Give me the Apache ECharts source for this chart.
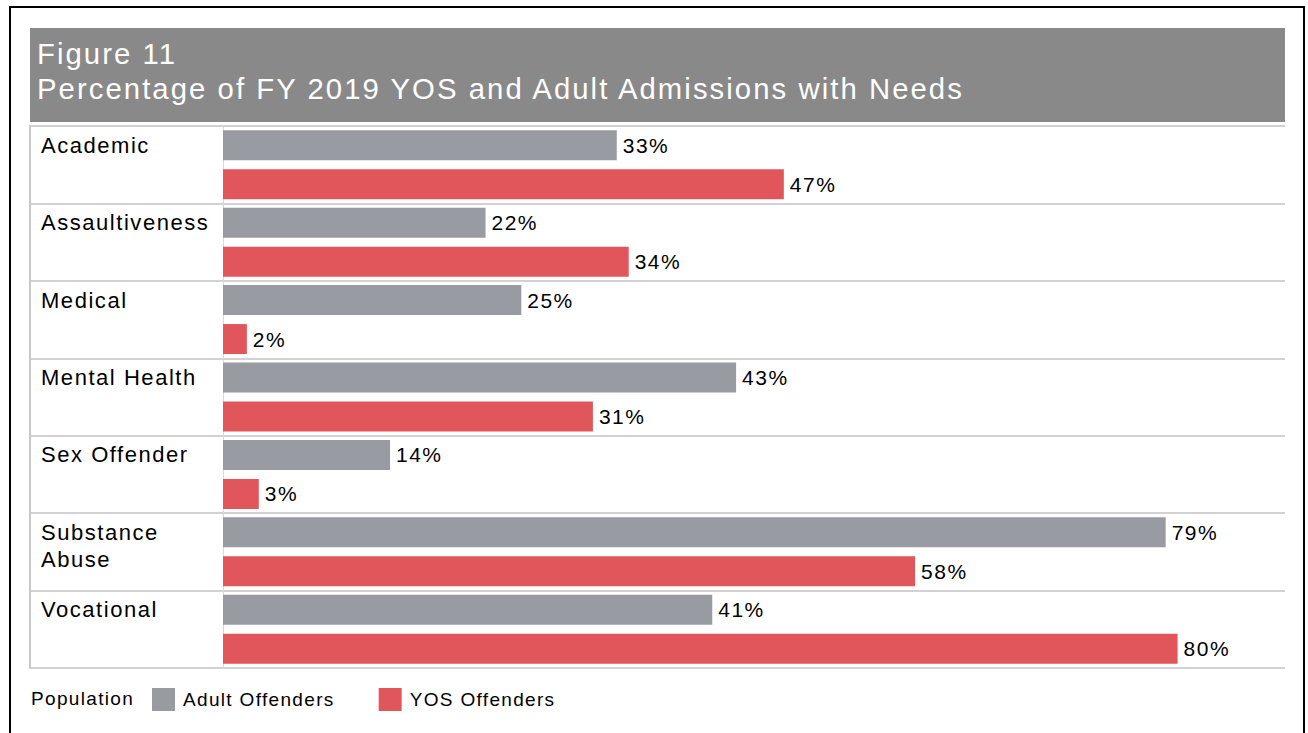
<!DOCTYPE html>
<html lang="en">
    <head>
        <meta charset="UTF-8">
        <script src="https://cdn.jsdelivr.net/npm/echarts@6/dist/echarts.min.js"></script>
        <title>Figure 11</title>
        <style>
            html, body { margin: 0; padding: 0; background: #fff; }
            /* the original uses a loosely tracked Helvetica */
            #chart-container text { letter-spacing: 0.07em; }
        </style>
    </head>
    <body>
        <div id="chart-container" style="width: 1308px; height: 733px;"></div>

        <script>
            // needs categories, top to bottom
            const categories = ['Academic', 'Assaultiveness', 'Medical', 'Mental Health', 'Sex Offender', 'Substance Abuse', 'Vocational'];
            // percentage of admissions with each need
            const adultValues = [33, 22, 25, 43, 14, 79, 41];
            const yosValues = [47, 34, 2, 31, 3, 58, 80];
            const seriesNames = ['Adult Offenders', 'YOS Offenders'];

            const font = '"Liberation Sans", Arial, sans-serif';
            const chart = echarts.init(document.getElementById('chart-container'), null, { renderer: 'svg' });

            // long names go on two lines, the spacer pushes the text up to the top of the row
            const rowLabel = v => {
                const lines = v.length > 14 ? v.split(' ') : [v, ' '];
                return lines.map(l => '{a|' + l + '}').join('\n') + '\n{b| }';
            };

            const options = {
                animation: false,
                backgroundColor: '#fff',
                graphic: [
                    { type: 'rect', z: 0, shape: { x: 10, y: 7, width: 1294, height: 800 },
                      style: { fill: 'none', stroke: '#000', lineWidth: 2 } },
                    { type: 'rect', z: 0, shape: { x: 30, y: 28, width: 1255, height: 94 },
                      style: { fill: '#898989' } }
                ],
                title: [
                    {
                        text: 'Figure 11\nPercentage of FY 2019 YOS and Adult Admissions with Needs',
                        left: 37, top: 36, padding: 0,
                        textStyle: { color: '#fff', fontFamily: font, fontSize: 29.3, fontWeight: 'normal', lineHeight: 35 }
                    },
                    {
                        text: 'Population',
                        left: 31, top: 689, padding: 0,
                        textStyle: { color: '#000', fontFamily: font, fontSize: 19, fontWeight: 'normal' }
                    }
                ],
                legend: {
                    left: 152, top: 688, padding: 0,
                    itemWidth: 23, itemHeight: 23, itemGap: 64,
                    icon: 'rect',
                    data: seriesNames,
                    textStyle: { color: '#000', fontFamily: font, fontSize: 19, padding: [0, 0, 0, 3] }
                },
                grid: [
                    { left: 30, width: 193, top: 126, bottom: 65 },
                    { left: 223, right: 23, top: 126, bottom: 65 }
                ],
                xAxis: [
                    { type: 'value', gridIndex: 0, show: false },
                    { type: 'value', gridIndex: 1, min: 0, max: 89, show: false }
                ],
                yAxis: [
                    {
                        type: 'category', gridIndex: 0, inverse: true, data: categories,
                        axisLine: { show: true, lineStyle: { color: '#c8c8c8', width: 2 } },
                        axisTick: { show: false },
                        splitLine: { show: true, lineStyle: { color: '#d2d2d2', width: 2 } },
                        axisLabel: {
                            inside: true, margin: 11, align: 'left',
                            formatter: rowLabel,
                            rich: {
                                a: { fontFamily: font, fontSize: 22, color: '#000', lineHeight: 27 },
                                b: { fontSize: 12, lineHeight: 12, height: 12 }
                            }
                        }
                    },
                    {
                        type: 'category', gridIndex: 1, inverse: true, data: categories,
                        axisLine: { show: true, lineStyle: { color: '#d8d8d8', width: 1 } },
                        axisTick: { show: false },
                        axisLabel: { show: false },
                        splitLine: { show: true, lineStyle: { color: '#d2d2d2', width: 2 } }
                    }
                ],
                series: [
                    {
                        name: seriesNames[0], type: 'bar', xAxisIndex: 1, yAxisIndex: 1,
                        data: adultValues, barWidth: 30, barGap: '30%',
                        itemStyle: { color: '#989ba1' },
                        label: { show: true, position: 'right', distance: 6, formatter: '{c}%',
                                 color: '#000', fontFamily: font, fontSize: 21 }
                    },
                    {
                        name: seriesNames[1], type: 'bar', xAxisIndex: 1, yAxisIndex: 1,
                        data: yosValues, barWidth: 30, barGap: '30%',
                        itemStyle: { color: '#e1565b' },
                        label: { show: true, position: 'right', distance: 6, formatter: '{c}%',
                                 color: '#000', fontFamily: font, fontSize: 21 }
                    }
                ]
            };
            chart.setOption(options);
        </script>
    </body>
</html>
